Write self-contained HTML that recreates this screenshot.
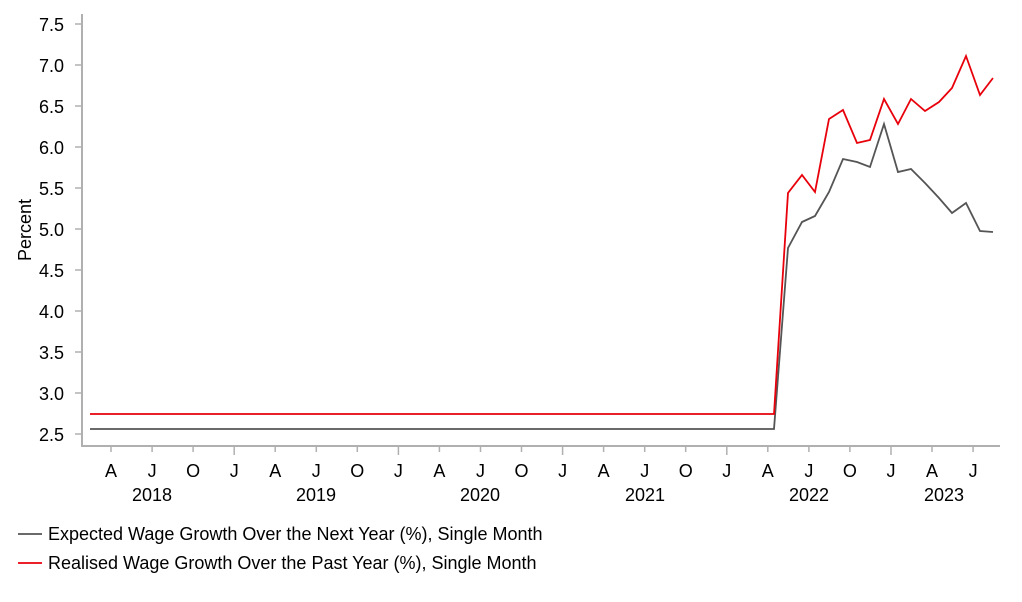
<!DOCTYPE html><html><head><style>body{margin:0;background:#fff}</style></head><body>
<svg width="1022" height="597" xmlns="http://www.w3.org/2000/svg" font-family="Liberation Sans, Arial, sans-serif" font-size="18" fill="#000">
<g stroke="#b0b0b0" stroke-width="2" fill="none">
<line x1="82" y1="14" x2="82" y2="447"/><line x1="81" y1="446" x2="1000" y2="446"/>
</g>
<g stroke="#b0b0b0" stroke-width="1.5">
<line x1="75" y1="434" x2="82" y2="434"/><line x1="75" y1="393" x2="82" y2="393"/><line x1="75" y1="352" x2="82" y2="352"/><line x1="75" y1="311" x2="82" y2="311"/><line x1="75" y1="270" x2="82" y2="270"/><line x1="75" y1="229" x2="82" y2="229"/><line x1="75" y1="188" x2="82" y2="188"/><line x1="75" y1="147" x2="82" y2="147"/><line x1="75" y1="106" x2="82" y2="106"/><line x1="75" y1="65" x2="82" y2="65"/><line x1="75" y1="24" x2="82" y2="24"/>
<line x1="111" y1="446" x2="111" y2="452"/><line x1="152.1" y1="446" x2="152.1" y2="452"/><line x1="193.1" y1="446" x2="193.1" y2="452"/><line x1="234.2" y1="446" x2="234.2" y2="455"/>
<line x1="275.2" y1="446" x2="275.2" y2="452"/><line x1="316.3" y1="446" x2="316.3" y2="452"/><line x1="357.3" y1="446" x2="357.3" y2="452"/><line x1="398.4" y1="446" x2="398.4" y2="455"/>
<line x1="439.4" y1="446" x2="439.4" y2="452"/><line x1="480.5" y1="446" x2="480.5" y2="452"/><line x1="521.5" y1="446" x2="521.5" y2="452"/><line x1="562.6" y1="446" x2="562.6" y2="455"/>
<line x1="603.6" y1="446" x2="603.6" y2="452"/><line x1="644.7" y1="446" x2="644.7" y2="452"/><line x1="685.7" y1="446" x2="685.7" y2="452"/><line x1="726.8" y1="446" x2="726.8" y2="455"/>
<line x1="767.8" y1="446" x2="767.8" y2="452"/><line x1="808.9" y1="446" x2="808.9" y2="452"/><line x1="849.9" y1="446" x2="849.9" y2="452"/><line x1="891" y1="446" x2="891" y2="455"/>
<line x1="932" y1="446" x2="932" y2="452"/><line x1="973.1" y1="446" x2="973.1" y2="452"/>
</g>
<g text-anchor="end">
<text x="64" y="441">2.5</text><text x="64" y="400">3.0</text><text x="64" y="359">3.5</text><text x="64" y="318">4.0</text><text x="64" y="277">4.5</text><text x="64" y="236">5.0</text><text x="64" y="195">5.5</text><text x="64" y="154">6.0</text><text x="64" y="113">6.5</text><text x="64" y="72">7.0</text><text x="64" y="31">7.5</text>
</g>
<g text-anchor="middle">
<text x="111" y="477">A</text><text x="152.1" y="477">J</text><text x="193.1" y="477">O</text><text x="234.2" y="477">J</text>
<text x="275.2" y="477">A</text><text x="316.3" y="477">J</text><text x="357.3" y="477">O</text><text x="398.4" y="477">J</text>
<text x="439.4" y="477">A</text><text x="480.5" y="477">J</text><text x="521.5" y="477">O</text><text x="562.6" y="477">J</text>
<text x="603.6" y="477">A</text><text x="644.7" y="477">J</text><text x="685.7" y="477">O</text><text x="726.8" y="477">J</text>
<text x="767.8" y="477">A</text><text x="808.9" y="477">J</text><text x="849.9" y="477">O</text><text x="891" y="477">J</text>
<text x="932" y="477">A</text><text x="973.1" y="477">J</text>
<text x="152" y="501">2018</text><text x="316" y="501">2019</text><text x="480" y="501">2020</text><text x="645" y="501">2021</text><text x="809" y="501">2022</text><text x="944" y="501">2023</text>
<text transform="translate(31,230) rotate(-90)">Percent</text>
</g>
<polyline fill="none" stroke="#555" stroke-width="1.8" points="90,429 774,429 788,248 802,222 815,216 829,192 843,159 857,162 870,167 884,124 898,172 911,169 925,183 939,198 952,213 966,203 980,231 993,232"/>
<polyline fill="none" stroke="#e8000b" stroke-width="1.8" points="90,414 774,414 788,193 802,175 815,192 829,119 843,110 857,143 870,140 884,99 898,124 911,99 925,111 939,102 952,88 966,56 980,95 993,78"/>
<line x1="18" y1="534" x2="42" y2="534" stroke="#555" stroke-width="1.8"/>
<text x="48" y="540">Expected Wage Growth Over the Next Year (%), Single Month</text>
<line x1="18" y1="563" x2="42" y2="563" stroke="#e8000b" stroke-width="1.8"/>
<text x="48" y="569">Realised Wage Growth Over the Past Year (%), Single Month</text>
</svg></body></html>
